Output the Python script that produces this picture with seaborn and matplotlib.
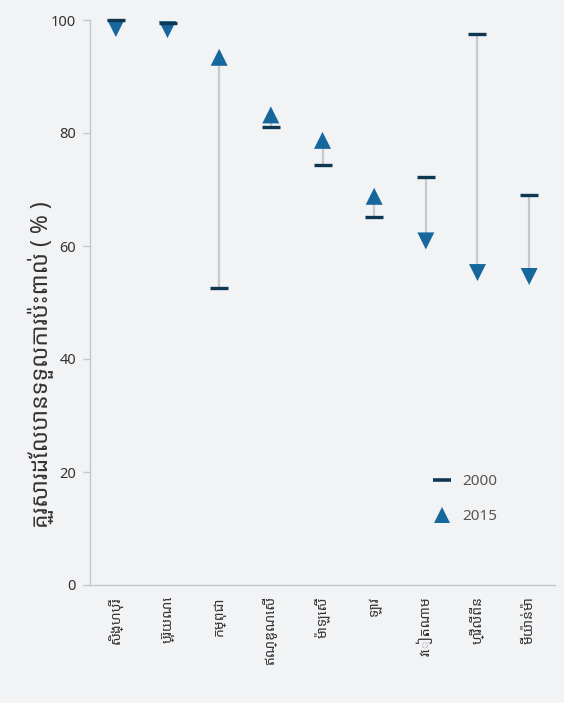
import matplotlib
matplotlib.use("Agg")
import matplotlib.pyplot as plt
from matplotlib import font_manager
from matplotlib.lines import Line2D
import seaborn as sns
import pandas as pd

# ---- data ----
categories = ["សិង្ហបុរី", "ប្រ៊ុយណេ", "កម្ពុជា", "ឥណ្ឌូណេស៊ី", "ម៉ាឡេស៊ី",
              "ឡាវ", "វៀតណាម", "ហ្វីលីពីន", "មីយ៉ាន់ម៉ា"]
values_2000 = [100.0, 99.4, 52.5, 81.0, 74.3, 65.1, 72.2, 97.5, 69.1]
values_2015 = [98.5, 98.3, 93.4, 83.2, 78.7, 68.8, 60.9, 55.3, 54.6]
yticks = [0, 20, 40, 60, 80, 100]
ylabel = "គ្រួសារដែលបានទទួលការប៉ះពាល់ ( % )"
legend_labels = ["2000", "2015"]

# ---- fonts ----
sns.set_theme(style="white")
names = set(f.name for f in font_manager.fontManager.ttflist)
khmer = [n for n in ["Noto Sans Khmer", "Noto Sans Khmer UI", "Khmer"] if n in names]
if not khmer:
    khmer = sorted(n for n in names if "khmer" in n.lower())[:1]
plt.rcParams["font.family"] = khmer[:1] + ["Open Sans", "DejaVu Sans"]

bg = "#f2f3f5"
c2000 = "#0e3754"
c2015 = "#16679c"
cline = "#c6c8cc"

df = pd.DataFrame({
    "cat": categories,
    "x": range(len(categories)),
    "v2000": values_2000,
    "v2015": values_2015,
})
df["dir"] = ["up" if b >= a else "down" for a, b in zip(df.v2000, df.v2015)]

fig = plt.figure(figsize=(5.64, 7.03), dpi=100, facecolor=bg)
ax = fig.add_axes([90 / 564, (703 - 585) / 703, 465 / 564, 565 / 703])
ax.set_facecolor(bg)

ax.vlines(df.x, df.v2000, df.v2015, color=cline, lw=1.6, zorder=1)

sns.scatterplot(data=df, x="x", y="v2015", style="dir",
                markers={"up": "^", "down": "v"}, s=150, color=c2015,
                linewidth=0, ax=ax, legend=False, zorder=2, clip_on=False)
sns.scatterplot(data=df, x="x", y="v2000", marker="_", s=160, color=c2000,
                linewidth=2.4, ax=ax, legend=False, zorder=3, clip_on=False)

ax.set_xlim(-0.5, len(categories) - 0.5)
ax.set_ylim(0, 100)
ax.set_yticks(yticks)
ax.set_yticklabels([str(t) for t in yticks], fontsize=10.5, color="#333333")
ax.set_xticks(df.x)
ax.set_xticklabels(categories, rotation=90, fontsize=10, color="#333333")
ax.set_xlabel("")
ax.set_ylabel(ylabel, fontsize=16.5, color="#333333")
ax.yaxis.set_label_coords(-0.077, 0.39)

for s in ["top", "right"]:
    ax.spines[s].set_visible(False)
for s in ["left", "bottom"]:
    ax.spines[s].set_color("#c4c6ca")
    ax.spines[s].set_linewidth(1.0)
ax.tick_params(axis="y", length=5, width=1, color="#c4c6ca", pad=5, left=True)
ax.tick_params(axis="x", length=0, pad=8)

handles = [
    Line2D([], [], marker="_", color=c2000, ls="none", markersize=13, markeredgewidth=2.6),
    Line2D([], [], marker="^", color=c2015, ls="none", markersize=12, markeredgewidth=0),
]
leg = ax.legend(handles, legend_labels, loc="upper left", bbox_to_anchor=(0.695, 0.22),
                frameon=False, fontsize=11, labelspacing=1.3, handletextpad=0.3)
for t in leg.get_texts():
    t.set_color("#555555")

fig.savefig("out.png", dpi=100, facecolor=bg)
